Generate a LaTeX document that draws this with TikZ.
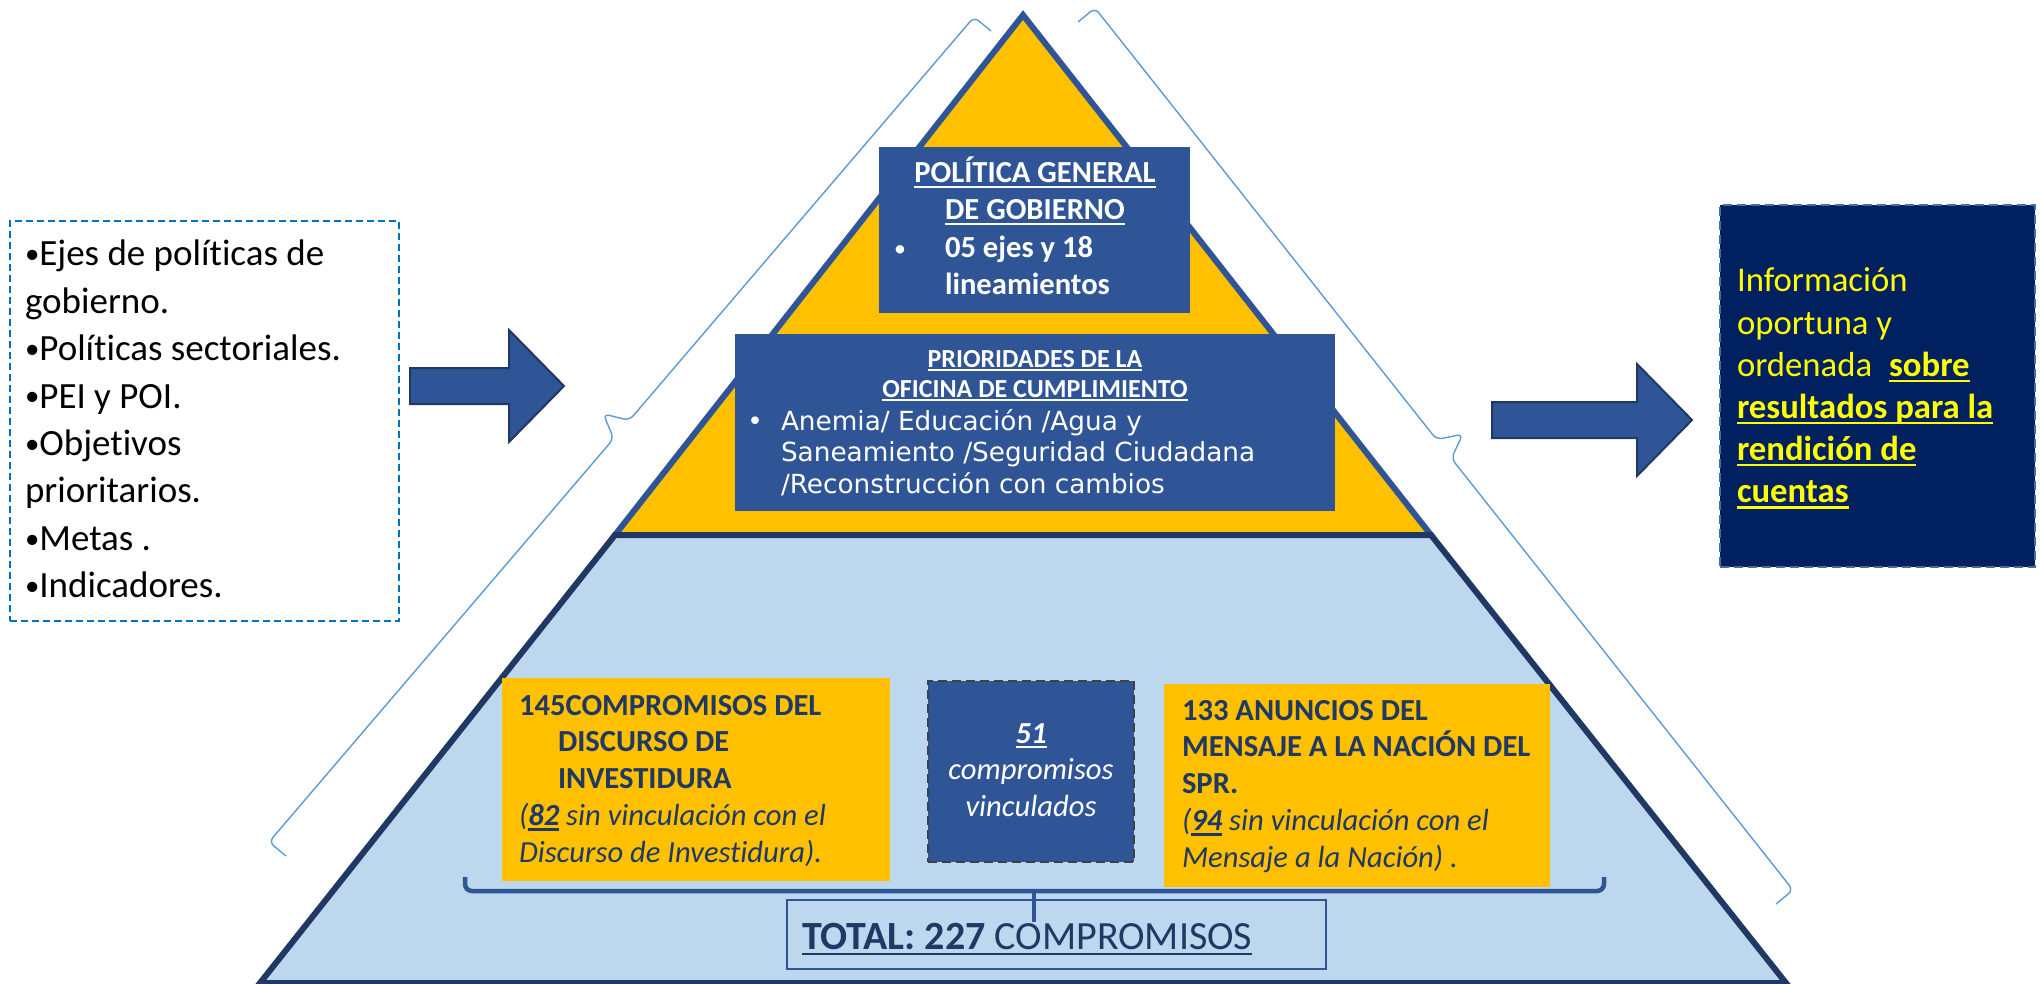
\documentclass[tikz,border=0pt]{standalone}
\usepackage{graphicx}
\usepackage{fontspec}
\setmainfont[Ligatures={NoCommon}]{Carlito}
\newfontfamily\dvs{DejaVu Sans}
\definecolor{boxblue}{HTML}{2F5597}
\definecolor{orfill}{HTML}{FFC000}
\definecolor{lblue}{HTML}{BDD7EE}
\definecolor{navyline}{HTML}{203864}
\definecolor{navytxt}{HTML}{203864}
\definecolor{darkbox}{HTML}{002060}
\definecolor{yel}{HTML}{FFFF00}
\definecolor{bracecol}{HTML}{5B9BD5}
\definecolor{dashblue}{HTML}{0070C0}
\definecolor{dashgrey}{HTML}{404040}
\definecolor{rdash}{HTML}{41719C}
\definecolor{arrowline}{HTML}{1F3864}
\newcommand\myul[1]{\leavevmode\setbox0\hbox{#1}\rlap{\rule[-0.16em]{\wd0}{0.07em}}\box0\relax}
\newcommand\smbul{\raisebox{0.06em}{\scalebox{0.78}{•}}}
\begin{document}
\begin{tikzpicture}[x=1pt,y=-1pt,
  txt/.style={inner sep=0pt,outer sep=0pt},
  bluebox/.style={fill=boxblue,inner sep=0pt,outer sep=0pt},
  orbox/.style={fill=orfill,inner sep=0pt,outer sep=0pt},
  blockarrow/.style={fill=boxblue,draw=arrowline,line width=2pt},
  thinbrace/.style={draw=bracecol,line width=1.4pt,rounded corners=6pt},
  bigbrace/.style={draw=boxblue,line width=4.5pt},
  body/.style={font=\fontsize{30.6}{36.9}\selectfont}
]
\useasboundingbox (0,0) rectangle (2040,984);
\fill[white] (0,0) rectangle (2040,984);

% pyramid
\coordinate (apex) at (1023,15);
\coordinate (dl) at (615,535);
\coordinate (dr) at (1431,535);
\coordinate (bl) at (260,983);
\coordinate (br) at (1786,983);
\draw[fill=orfill,draw=boxblue,line width=6pt] (apex) -- (dr) -- (dl) -- cycle;
\draw[fill=lblue,draw=navyline,line width=6pt] (dl) -- (dr) -- (br) -- (bl) -- cycle;

% thin side brackets
\draw[thinbrace] (991,31) -- (974,17) -- (629.3,420.4) -- (603.3,413.9) -- (613.7,438.6) -- (269,842) -- (286,856);
\draw[thinbrace] (1078,22) -- (1095,8) -- (1436.6,439.6) -- (1462.8,434.1) -- (1451.4,458.4) -- (1793,890) -- (1776,904);

% left text box
\node[draw=dashblue,line width=1.6pt,dash pattern=on 7pt off 4pt,minimum width=389pt,minimum height=400pt,inner sep=0pt] (leftbox) at (204.5,421) {};
\node[txt,anchor=base west,font=\fontsize{37}{47.4}\selectfont] (lefttxt) at (25,266)
 {\begin{tabular}[t]{@{}l@{}}\smbul Ejes de políticas de\\gobierno.\\\smbul Políticas sectoriales.\\\smbul PEI y POI.\\\smbul Objetivos\\prioritarios.\\\smbul Metas .\\\smbul Indicadores.\end{tabular}};

% arrows
\draw[blockarrow] (410,368) -- (509,368) -- (509,330) -- (564,386) -- (509,442) -- (509,404) -- (410,404) -- cycle;
\draw[blockarrow] (1492,402) -- (1637,402) -- (1637,364) -- (1692,420) -- (1637,476) -- (1637,438) -- (1492,438) -- cycle;

% right box
\node[fill=darkbox,draw=rdash,line width=1.6pt,dash pattern=on 9pt off 5pt,minimum width=315pt,minimum height=362pt,inner sep=0pt] (rightbox) at (1877.5,386) {};
\node[txt,anchor=base west,text=yel,font=\fontsize{34.7}{42.2}\selectfont] (righttxt) at (1737,292)
 {\begin{tabular}[t]{@{}l@{}}Información\\oportuna y\\ordenada\hspace{17pt}\myul{\textbf{sobre}}\\\myul{\textbf{resultados para la}}\\\myul{\textbf{rendición de}}\\\myul{\textbf{cuentas}}\end{tabular}};

% top box
\node[bluebox,minimum width=311pt,minimum height=166pt] (pgbox) at (1034.5,230) {};
\node[txt,anchor=base,text=white,font=\fontsize{30.6}{37}\selectfont\bfseries] (pgtitle) at (1035,183)
 {\begin{tabular}[t]{@{}c@{}}\myul{POLÍTICA GENERAL}\\\myul{DE GOBIERNO}\end{tabular}};
\node[txt,anchor=base,text=white,font=\fontsize{30.6}{37}\selectfont] (pgbul) at (900,258) {\smbul};
\node[txt,anchor=base west,text=white,font=\fontsize{30.6}{36.5}\selectfont\bfseries] (pgtxt) at (945,258)
 {\begin{tabular}[t]{@{}l@{}}05 ejes y 18\\lineamientos\end{tabular}};

% second box
\node[bluebox,minimum width=600pt,minimum height=177pt] (prbox) at (1035,422.5) {};
\node[txt,anchor=base,text=white,font=\fontsize{26}{30}\selectfont\bfseries] (prtitle) at (1035,367)
 {\begin{tabular}[t]{@{}c@{}}\myul{PRIORIDADES DE LA}\\\myul{OFICINA DE CUMPLIMIENTO}\end{tabular}};
\node[txt,anchor=base,text=white,font=\dvs\fontsize{26.3}{31.5}\selectfont] (prbul) at (755,430) {•};
\node[txt,anchor=base west,text=white,font=\dvs\fontsize{26.3}{31.5}\selectfont] (prtxt) at (781,430)
 {\begin{tabular}[t]{@{}l@{}}Anemia/ Educación /Agua y\\Saneamiento /Seguridad Ciudadana\\/Reconstrucción con cambios\end{tabular}};

% bottom boxes
\node[orbox,minimum width=388pt,minimum height=203pt] (dibox) at (696,779.5) {};
\node[txt,anchor=base west,text=navytxt,body] (ditxt) at (519,715)
 {\begin{tabular}[t]{@{}l@{}}\textbf{145COMPROMISOS DEL}\\\hspace{39pt}\textbf{DISCURSO DE}\\\hspace{39pt}\textbf{INVESTIDURA}\\\textit{(\myul{\textbf{82}} sin vinculación con el}\\\textit{Discurso de Investidura).}\end{tabular}};

\node[bluebox,draw=dashgrey,line width=2.6pt,dash pattern=on 9pt off 5pt,minimum width=206pt,minimum height=181pt] (vbox) at (1031,771.5) {};
\node[txt,anchor=base,text=white,font=\fontsize{30.6}{36.5}\selectfont] (vtxt) at (1031,743)
 {\begin{tabular}[t]{@{}c@{}}\myul{\textbf{\textit{51}}}\\\textit{compromisos}\\\textit{vinculados}\end{tabular}};

\node[orbox,minimum width=386pt,minimum height=203pt] (mnbox) at (1357,785.5) {};
\node[txt,anchor=base west,text=navytxt,body] (mntxt) at (1182,720)
 {\begin{tabular}[t]{@{}l@{}}\textbf{133 ANUNCIOS DEL}\\\textbf{MENSAJE A LA NACIÓN DEL}\\\textbf{SPR.}\\\textit{(\myul{\textbf{94}} sin vinculación con el}\\\textit{Mensaje a la Nación) .}\end{tabular}};

% total
\node[draw=boxblue,line width=1.8pt,minimum width=539pt,minimum height=69pt,inner sep=0pt] (totbox) at (1056.5,934.5) {};
\coordinate (brL) at (465,877);
\coordinate (brR) at (1604,877);
\coordinate (brM) at (1034,891);
\draw[bigbrace,rounded corners=7pt] (brL) -- (465,891) -- (1604,891) -- (brR);
\draw[bigbrace] (brM) -- (1034,922);
\node[txt,anchor=base west,text=navytxt,font=\fontsize{40}{48}\selectfont] (tottxt) at (802,949)
 {\myul{\textbf{TOTAL: 227} COMPROMISOS}};
\end{tikzpicture}
\end{document}
